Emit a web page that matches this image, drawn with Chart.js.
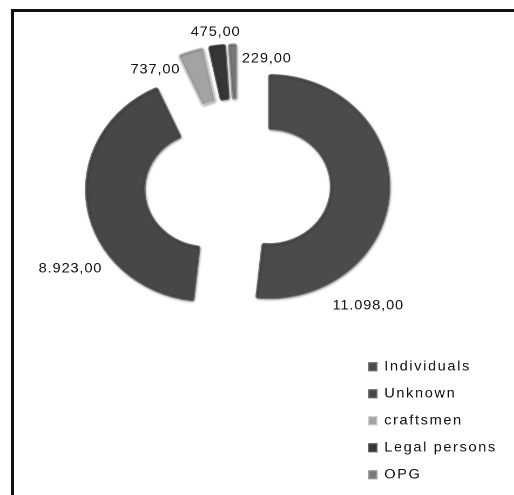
<!DOCTYPE html>
<html>
<head>
<meta charset="utf-8">
<script src="https://cdn.jsdelivr.net/npm/chart.js@4.4.1/dist/chart.umd.min.js"></script>
<style>
  html, body { margin: 0; padding: 0; background: #fff; }
  body { width: 514px; height: 495px; position: relative; overflow: hidden; }
  #frame {
    position: absolute; left: 11px; top: 9px; width: 600px; height: 600px;
    border-top: 3px solid #111; border-left: 3px solid #111;
  }
  #chart { position: absolute; left: 0; top: 0; transform: scaleX(1.08); transform-origin: 0 0; }
</style>
</head>
<body>
<div id="frame"></div>
<canvas id="chart" width="476" height="495"></canvas>
<script>
// data
const categories = ['Individuals', 'Unknown', 'craftsmen', 'Legal persons', 'OPG'];
const values = [11098, 8923, 737, 475, 229];

// look
const sliceColors = ['#4b4b4b', '#474747', '#a3a3a3', '#363636', '#797979'];
const edgeColors = ['#6c6c6c', '#686868', '#c9c9c9', '#585858', '#9b9b9b'];
const FONT = "'Liberation Sans', Arial, sans-serif";

// 11098 -> "11.098,00"
function fmt(v) {
    const parts = v.toFixed(2).split('.');
    return parts[0].replace(/\B(?=(\d{3})+(?!\d))/g, '.') + ',' + parts[1];
}

// text in the picture is spaced out a bit
const spacingPlugin = {
    id: 'letterSpacing',
    beforeUpdate(chart) { chart.ctx.letterSpacing = '1.5px'; },
    beforeDraw(chart) { chart.ctx.letterSpacing = '1.5px'; },
};

// pull every slice out along its middle angle, plus a soft shadow
const explodePlugin = {
    id: 'explode',
    beforeDatasetsDraw(chart, args, opts) {
        const area = chart.chartArea;
        const cx = (area.left + area.right) / 2;
        const cy = (area.top + area.bottom) / 2;
        chart.getDatasetMeta(0).data.forEach(arc => {
            const mid = (arc.startAngle + arc.endAngle) / 2;
            arc.x = cx + Math.cos(mid) * opts.distance;
            arc.y = cy + Math.sin(mid) * opts.distance;
        });
        const ctx = chart.ctx;
        ctx.save();
        ctx.shadowColor = 'rgba(0,0,0,0.3)';
        ctx.shadowBlur = 4;
        ctx.shadowOffsetX = 1;
        ctx.shadowOffsetY = 2;
    },
    afterDatasetsDraw(chart) {
        chart.ctx.restore();
    },
};

// value labels around the ring
const labelPlugin = {
    id: 'sliceLabels',
    afterDatasetsDraw(chart, args, opts) {
        const ctx = chart.ctx;
        const area = chart.chartArea;
        const cx = (area.left + area.right) / 2;
        const cy = (area.top + area.bottom) / 2;
        ctx.save();
        ctx.font = opts.size + 'px ' + FONT;
        ctx.letterSpacing = '0.8px';
        ctx.fillStyle = '#111';
        ctx.textAlign = 'center';
        ctx.textBaseline = 'middle';
        chart.getDatasetMeta(0).data.forEach((arc, i) => {
            const p = opts.placement[i];
            const a = arc.startAngle + p.frac * (arc.endAngle - arc.startAngle);
            const r = arc.outerRadius + p.pad;
            ctx.fillText(fmt(values[i]), cx + Math.cos(a) * r, cy + Math.sin(a) * r);
        });
        ctx.restore();
    },
};

const ctx = document.getElementById('chart').getContext('2d');
new Chart(ctx, {
    type: 'doughnut',
    data: {
        labels: categories,
        datasets: [
            {
                data: values,
                backgroundColor: sliceColors,
                borderColor: edgeColors,
                borderWidth: 1.2,
                borderRadius: 2,
                radius: 112,
                cutout: '51%',
                clip: false,
            },
        ],
    },
    options: {
        responsive: false,
        devicePixelRatio: 2,
        animation: false,
        events: [],
        layout: { padding: { left: 112, right: 6, top: 0, bottom: 0 } },
        plugins: {
            tooltip: { enabled: false },
            // empty strip under the ring (not full width) so the ring sits high
            // while the full-height legend stays at the bottom right
            title: {
                display: true,
                text: '',
                position: 'bottom',
                fullSize: false,
                font: { size: 10 },
                padding: { top: 0, bottom: 113 },
            },
            legend: {
                position: 'right',
                align: 'end',
                fullSize: true,
                labels: {
                    boxWidth: 7.5,
                    boxHeight: 8,
                    padding: 13.5,
                    color: '#111',
                    font: { family: FONT, size: 13.5 },
                },
            },
            explode: { distance: 29 },
            sliceLabels: {
                size: 13.5,
                placement: [
                    { frac: 0.725, pad: 59 },
                    { frac: 0.37, pad: 64 },
                    { frac: -0.75, pad: 26 },
                    { frac: 0.53, pad: 42 },
                    { frac: 4.15, pad: 17 },
                ],
            },
        },
    },
    plugins: [spacingPlugin, explodePlugin, labelPlugin],
});
</script>
</body>
</html>
